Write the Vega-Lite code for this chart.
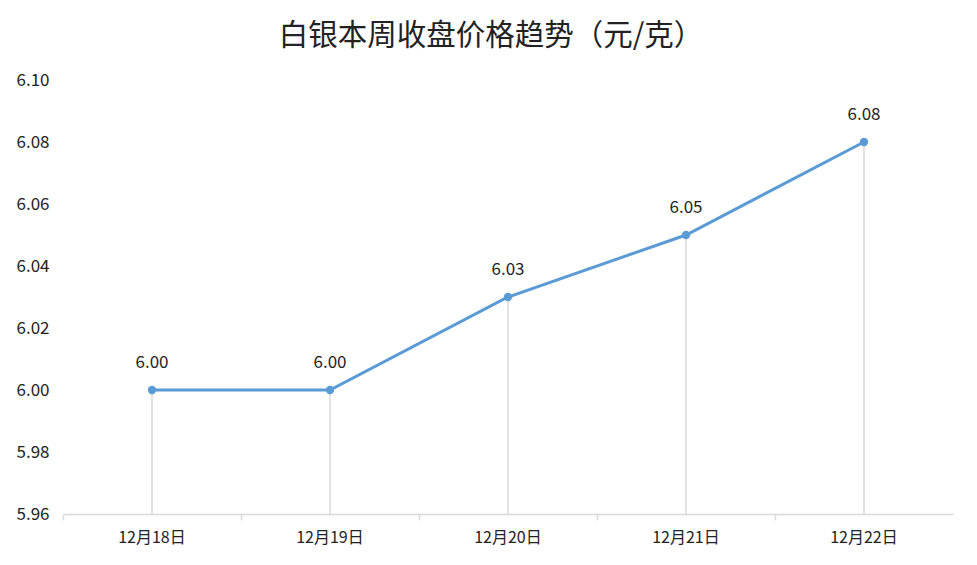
{
  "$schema": "https://vega.github.io/schema/vega-lite/v6.json",
  "width": 890,
  "height": 434,
  "autosize": {"type": "none"},
  "padding": {"left": 63, "top": 80, "right": 24, "bottom": 51},
  "background": "white",
  "config": {"view": {"stroke": null}, "font": "Noto Sans CJK SC"},
  "title": {"text": "白银本周收盘价格趋势（元/克）", "fontSize": 29.5, "fontWeight": "normal", "color": "#222222", "anchor": "middle", "dx": -17, "offset": 20, "font": "Noto Sans CJK SC"},
  "data": {"values": [
    {"date": "12月18日", "price": 6.00},
    {"date": "12月19日", "price": 6.00},
    {"date": "12月20日", "price": 6.03},
    {"date": "12月21日", "price": 6.05},
    {"date": "12月22日", "price": 6.08}
  ]},
  "encoding": {
    "x": {"field": "date", "type": "ordinal", "sort": null, "scale": {"paddingInner": 0, "paddingOuter": 0},
      "axis": {"title": null, "labelAngle": 0, "labelFontSize": 16, "labelColor": "#222222", "labelPadding": 9, "domainColor": "#d9d9d9", "domainWidth": 1.5, "tickColor": "#d9d9d9", "tickSize": 6, "tickWidth": 1.5, "bandPosition": 0, "grid": false}},
    "y": {"field": "price", "type": "quantitative", "scale": {"domain": [5.96, 6.10], "nice": false, "zero": false},
      "axis": {"title": null, "values": [5.96, 5.98, 6.0, 6.02, 6.04, 6.06, 6.08, 6.1], "format": ".2f", "grid": false, "domain": false, "ticks": false, "labelAlign": "left", "labelPadding": 47, "labelFontSize": 17, "labelColor": "#222222"}}
  },
  "layer": [
    {"mark": {"type": "rule", "color": "#d9d9d9", "strokeWidth": 1.5}, "encoding": {"y2": {"datum": 5.96}}},
    {"mark": {"type": "line", "color": "#5B9BD5", "strokeWidth": 3}},
    {"mark": {"type": "point", "filled": true, "color": "#5B9BD5", "size": 70, "opacity": 1}},
    {"mark": {"type": "text", "dy": -27, "fontSize": 17, "color": "#222222"}, "encoding": {"text": {"field": "price", "type": "quantitative", "format": ".2f"}}}
  ]
}
